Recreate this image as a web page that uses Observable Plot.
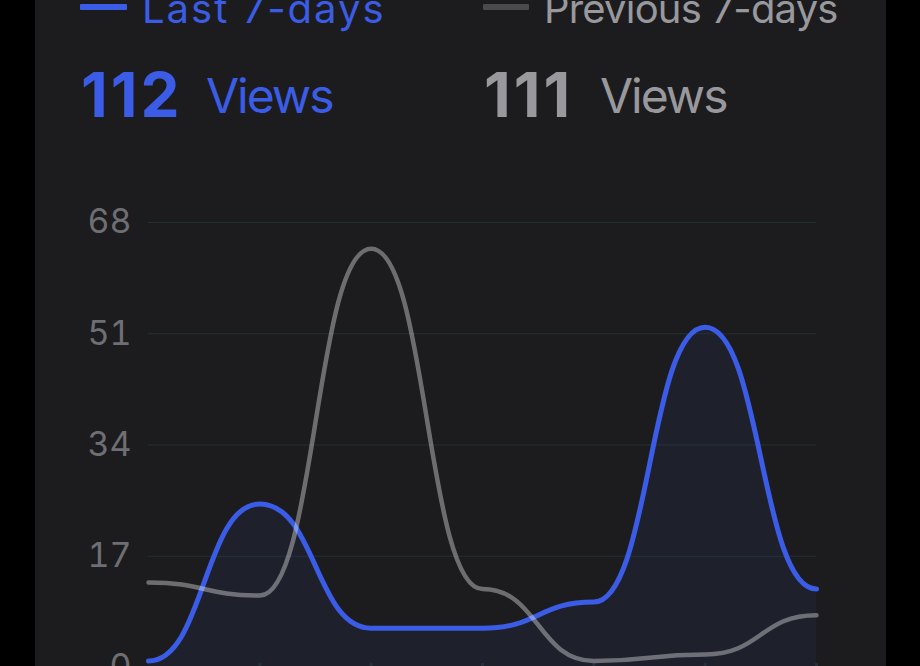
<!DOCTYPE html>
<html>
<head>
<meta charset="utf-8">
<script src="https://cdn.jsdelivr.net/npm/d3@7"></script>
<script src="https://cdn.jsdelivr.net/npm/@observablehq/plot@0.6"></script>
<style>
  html, body { margin: 0; padding: 0; width: 920px; height: 666px; overflow: hidden; background: #000; }
  body { position: relative; font-family: Inter, "Noto Sans", sans-serif; }
  #card { position: absolute; left: 35px; top: 0; width: 851px; height: 666px; background: #1c1c1e; }
  .t { position: absolute; white-space: nowrap; line-height: 1; }
  .sw { position: absolute; height: 6px; border-radius: 1px; }
  #chart { position: absolute; left: 0; top: 0; }
</style>
</head>
<body>
<div id="card"></div>
<div class="sw" style="left:80px;top:4px;width:47px;background:#3b5ce6"></div>
<div class="t" style="left:142px;top:-11.5px;font-size:40px;letter-spacing:2px;color:#3b5ce6">Last 7-days</div>
<div class="sw" style="left:483px;top:4px;width:46px;background:#4a4a4d"></div>
<div class="t" style="left:544px;top:-11.5px;font-size:40px;letter-spacing:-0.8px;color:#98989d">Previous 7-days</div>
<div class="t" style="left:81px;top:64px;font-size:62px;font-weight:700;color:#3b5ce6;letter-spacing:3px">112</div>
<div class="t" style="left:206px;top:72px;font-size:48px;letter-spacing:-2px;color:#3b5ce6">Views</div>
<div class="t" style="left:484px;top:64px;font-size:62px;font-weight:700;color:#98989d;letter-spacing:3px">111</div>
<div class="t" style="left:600px;top:72px;font-size:48px;letter-spacing:-2px;color:#98989d">Views</div>
<div id="chart"></div>
<script>
const days = [0, 1, 2, 3, 4, 5, 6];
const last7 = [1, 25, 6, 6, 10, 52, 12];
const prev7 = [13, 11, 64, 12, 1, 2, 8];
const yTicks = [0, 17, 34, 51, 68];

const lastData = days.map((d, i) => ({day: d, v: last7[i]}));
const prevData = days.map((d, i) => ({day: d, v: prev7[i]}));

const chart = Plot.plot({
  width: 920,
  height: 700,
  marginTop: 222,
  marginBottom: 33,
  marginLeft: 148,
  marginRight: 104,
  style: {background: "transparent", fontSize: "34px", fontFamily: "Inter, 'Noto Sans', sans-serif"},
  x: {domain: [0, 6], axis: null},
  y: {domain: [0, 68], axis: null},
  marks: [
    Plot.gridY(yTicks, {stroke: "#223030", strokeOpacity: 1, strokeWidth: 1}),
    Plot.axisY(yTicks, {tickSize: 0, tickPadding: 17, color: "#6e6e73", fontSize: 34, label: null}),
    Plot.areaY(lastData, {x: "day", y: "v", curve: "bump-x", fill: "#3b5ce6", fillOpacity: 0.07}),
    Plot.ruleX(days.slice(1), {x: d => d, y1: 0, y2: 0.6, stroke: "#26303e", strokeWidth: 3}),
    Plot.line(lastData, {x: "day", y: "v", curve: "bump-x", stroke: "#3b5ce6", strokeWidth: 5}),
    Plot.line(prevData, {x: "day", y: "v", curve: "bump-x", stroke: "#ffffff", strokeOpacity: 0.36, strokeWidth: 4.5})
  ]
});
document.getElementById("chart").appendChild(chart);
</script>
</body>
</html>
